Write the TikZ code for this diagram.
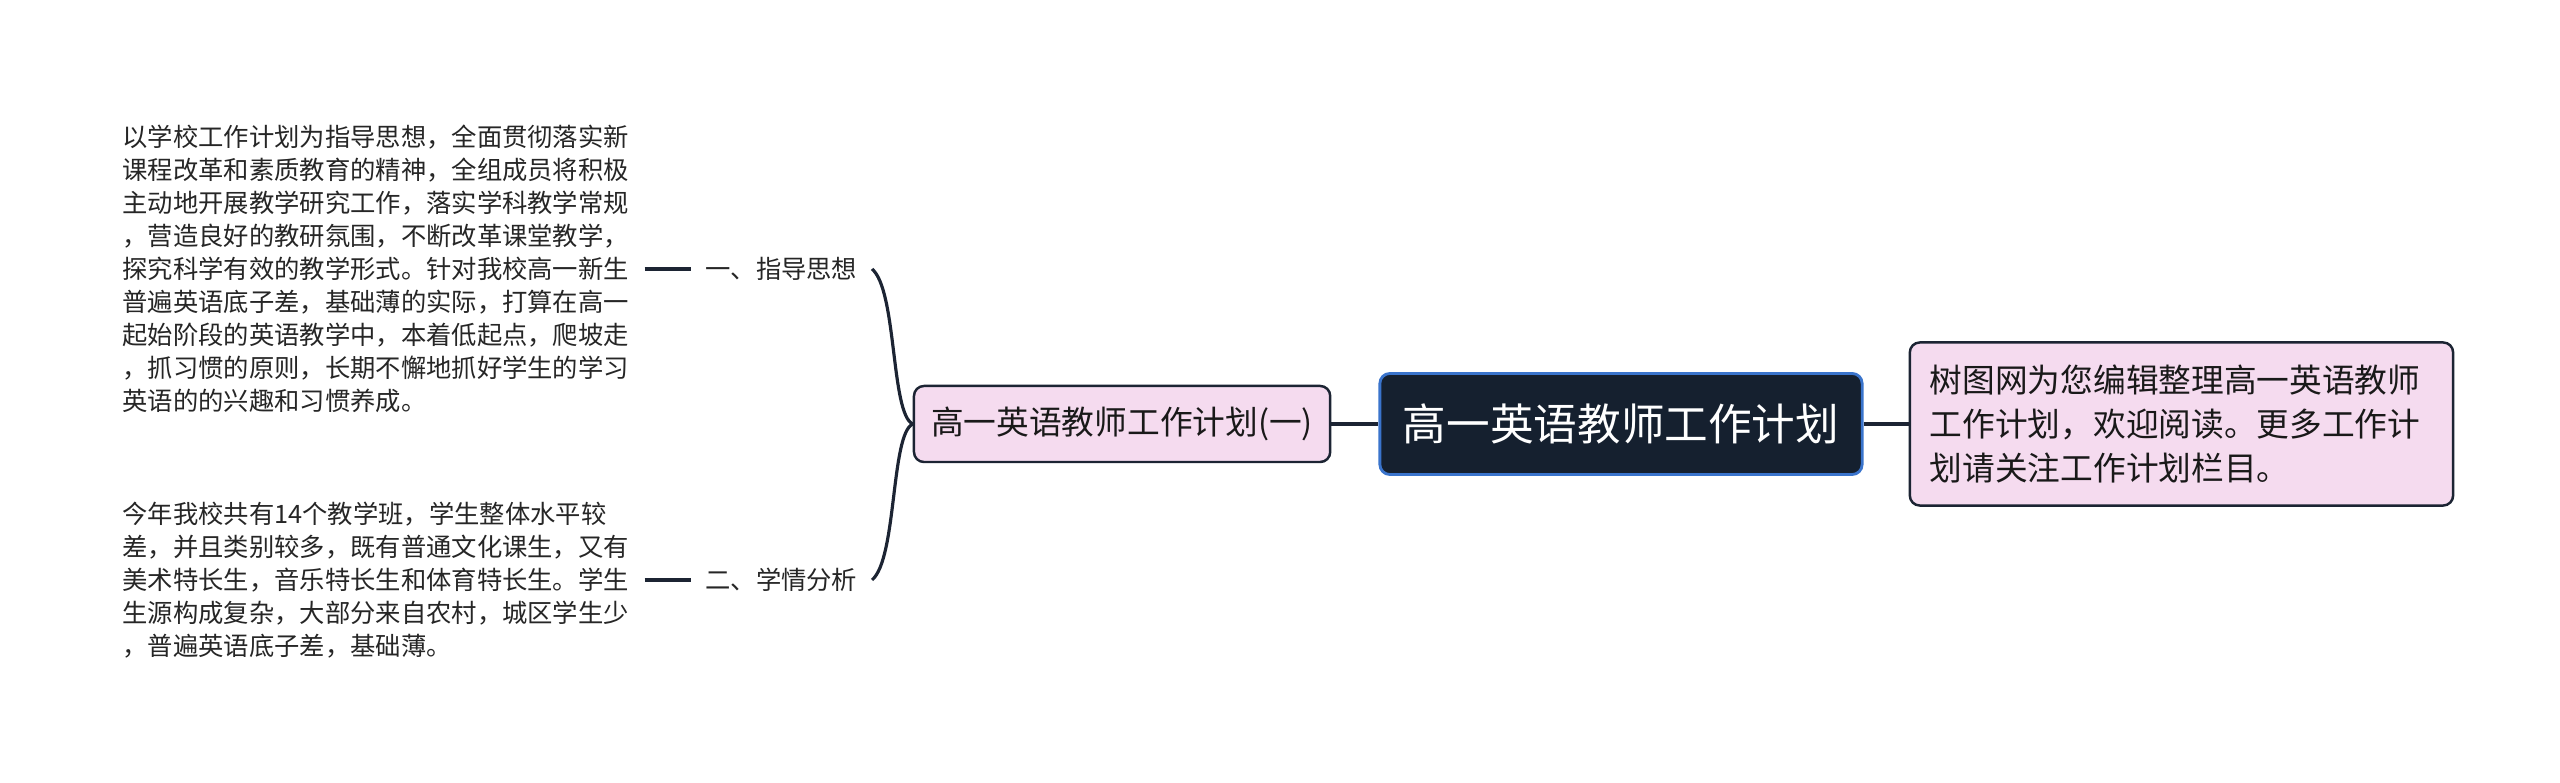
\documentclass[tikz,border=0pt]{standalone}
\usepackage{fontspec}
\setmainfont{Noto Sans CJK SC}
\usetikzlibrary{positioning}

\definecolor{rootfill}{HTML}{15202F}
\definecolor{rootline}{HTML}{3A74CC}
\definecolor{pinkfill}{HTML}{F5DBEF}
\definecolor{linkcol}{HTML}{1C2433}

\tikzset{
    rootbox/.style={draw=rootline, line width=0.8pt, fill=rootfill, rounded corners=0.1cm,
        text=white, font=\fontsize{12.4pt}{15pt}\selectfont,
        minimum width=4.82cm, minimum height=1.01cm, inner sep=0pt},
    pinkbox/.style={draw=linkcol, line width=0.7pt, fill=pinkfill, rounded corners=0.1cm,
        text=black!90, font=\fontsize{9.3pt}{12.5pt}\selectfont},
    branch/.style={inner sep=0.14cm, font=\fontsize{7.2pt}{9.4pt}\selectfont, text=black!85},
    textblock/.style={inner sep=0.15cm, align=left, font=\fontsize{7.2pt}{9.4pt}\selectfont, text=black!85},
    link/.style={linkcol, line width=1.4pt},
    twig/.style={linkcol, line width=0.9pt}
}

\begin{document}
\begin{tikzpicture}[x=0.01cm, y=-0.01cm]
    \fill[white] (0,0) rectangle (2560,783);
    \useasboundingbox (0,0) rectangle (2560,783);

    % centre and its two neighbours
    \node[rootbox] (root) at (1621,424) {高一英语教师工作计划};
    \node[pinkbox, left=0.47cm of root, minimum width=4.16cm, minimum height=0.76cm] (plan)
        {高一英语教师工作计划(一)};
    \node[pinkbox, right=0.45cm of root, text width=5.03cm, align=left, inner xsep=0.2cm,
        minimum height=1.63cm] (note)
        {树图网为您编辑整理高一英语教师\\工作计划，欢迎阅读。更多工作计\\划请关注工作计划栏目。};

    % branch labels
    \node[branch, anchor=east] (guide) at (872,269) {一、指导思想};
    \node[branch, anchor=east] (study) at (872,580) {二、学情分析};

    % detail text
    \node[textblock, left=0.46cm of guide] (guidetxt)
        {以学校工作计划为指导思想，全面贯彻落实新\\
         课程改革和素质教育的精神，全组成员将积极\\
         主动地开展教学研究工作，落实学科教学常规\\
         ，营造良好的教研氛围，不断改革课堂教学，\\
         探究科学有效的教学形式。针对我校高一新生\\
         普遍英语底子差，基础薄的实际，打算在高一\\
         起始阶段的英语教学中，本着低起点，爬坡走\\
         ，抓习惯的原则，长期不懈地抓好学生的学习\\
         英语的的兴趣和习惯养成。};
    \node[textblock, left=0.46cm of study] (studytxt)
        {今年我校共有14个教学班，学生整体水平较\\
         差，并且类别较多，既有普通文化课生，又有\\
         美术特长生，音乐特长生和体育特长生。学生\\
         生源构成复杂，大部分来自农村，城区学生少\\
         ，普遍英语底子差，基础薄。};

    % connectors
    \draw[link] (plan) -- (root);
    \draw[link] (root) -- (note);
    \draw[twig] (plan.west) .. controls +(-22,-10) and +(25,21) .. (guide.east);
    \draw[twig] (plan.west) .. controls +(-22,10) and +(25,-21) .. (study.east);
    \draw[link] (guidetxt) -- (guide);
    \draw[link] (studytxt) -- (study);
\end{tikzpicture}
\end{document}
